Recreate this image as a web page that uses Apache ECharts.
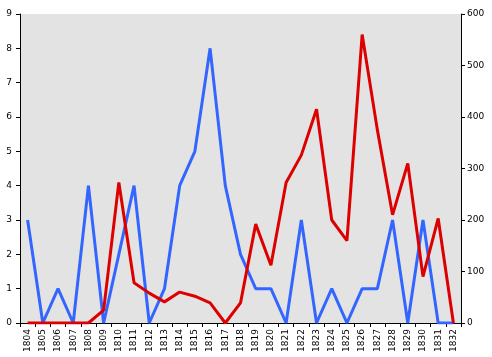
<!DOCTYPE html>
<html><head><meta charset="utf-8">
<script src="https://cdn.jsdelivr.net/npm/echarts@6/dist/echarts.min.js"></script>
<style>html,body{margin:0;padding:0;background:#fff}#c{width:492px;height:357px}</style>
</head><body><div id="c"></div>
<script>
const years = ['1804','1805','1806','1807','1808','1809','1810','1811','1812','1813','1814','1815','1816','1817','1818','1819','1820','1821','1822','1823','1824','1825','1826','1827','1828','1829','1830','1831','1832'];
const blueValues = [3,0,1,0,4,0,2,4,0,1,4,5,8,4,2,1,1,0,3,0,1,0,1,1,3,0,3,0,0];
const redValues = [0,0,0,0,0,25,273,78,58,41,60,52,39,0,39,192,112,273,326,415,200,160,560,375,210,310,90,203,0];
const leftTicks = [0,1,2,3,4,5,6,7,8,9];
const rightTicks = [0,100,200,300,400,500,600];

const chart = echarts.init(document.getElementById('c'));
const font = {fontFamily:'DejaVu Sans', fontSize:9, color:'#000'};
chart.setOption({
  animation:false,
  grid:{left:20,right:31,top:14,bottom:34,show:true,backgroundColor:'#e3e3e3',borderWidth:0},
  xAxis:{type:'category',data:years,boundaryGap:true,
    axisLine:{lineStyle:{color:'#000',width:1}},
    axisTick:{show:true,length:4,lineStyle:{color:'#000'}},
    axisLabel:Object.assign({rotate:90,interval:0,margin:6},font),
    splitLine:{show:false}},
  yAxis:[
    {type:'value',min:leftTicks[0],max:leftTicks[leftTicks.length-1],interval:1,position:'left',
     axisLine:{show:true,lineStyle:{color:'#000'}},axisTick:{show:true,length:4,lineStyle:{color:'#000'}},
     axisLabel:Object.assign({margin:8},font),splitLine:{show:false}},
    {type:'value',min:rightTicks[0],max:rightTicks[rightTicks.length-1],interval:100,position:'right',
     axisLine:{show:true,lineStyle:{color:'#000'}},axisTick:{show:true,length:4,lineStyle:{color:'#000'}},
     axisLabel:Object.assign({margin:6},font),splitLine:{show:false}}
  ],
  series:[
    {type:'line',data:blueValues,yAxisIndex:0,symbol:'none',lineStyle:{color:'#3366ff',width:3},z:2},
    {type:'line',data:redValues,yAxisIndex:1,symbol:'none',lineStyle:{color:'#dd0000',width:3},z:3}
  ]
});
</script></body></html>
